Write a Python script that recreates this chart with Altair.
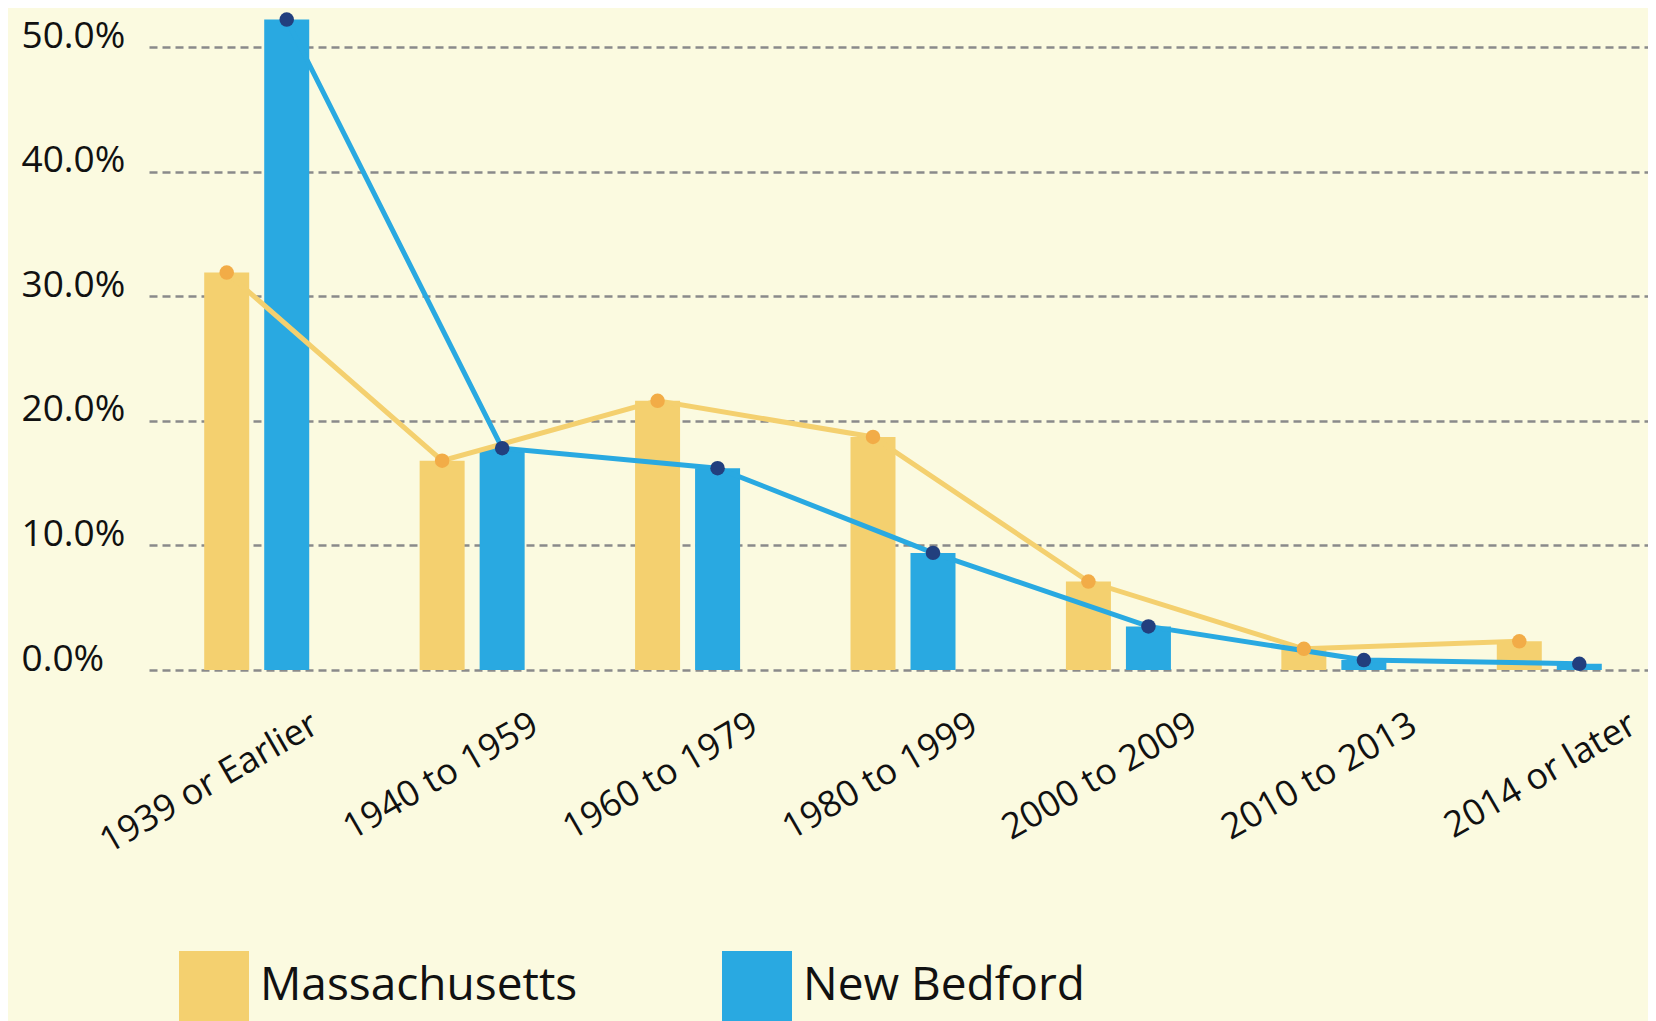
import altair as alt
import pandas as pd

# ---- data ----
categories = ["1939 or Earlier", "1940 to 1959", "1960 to 1979", "1980 to 1999",
              "2000 to 2009", "2010 to 2013", "2014 or later"]
series = ["Massachusetts", "New Bedford"]
massachusetts = [31.9, 16.8, 21.6, 18.7, 7.1, 1.7, 2.3]
new_bedford = [52.2, 17.8, 16.2, 9.4, 3.5, 0.8, 0.5]
y_ticks = [0.0, 0.1, 0.2, 0.3, 0.4, 0.5]

rows = []
for c, m, n in zip(categories, massachusetts, new_bedford):
    rows.append({"period": c, "area": "Massachusetts", "share": m / 100})
    rows.append({"period": c, "area": "New Bedford", "share": n / 100})
df = pd.DataFrame(rows)

FONT = "Open Sans"
BG = "#FBFAE0"
YEL = "#F4D06F"
BLU = "#29A9E1"
ORANGE = "#F2AC47"
NAVY = "#223F7E"

x_enc = alt.X("period:N", sort=categories,
              scale=alt.Scale(domain=categories, range=[0, 1508],
                              paddingInner=0, paddingOuter=0),
              axis=None)
xo_enc = alt.XOffset("area:N", sort=series,
                     scale=alt.Scale(domain=series, paddingInner=0.25, paddingOuter=0.92))
y_axis = alt.Axis(values=y_ticks, format=".1%", title=None, orient="left",
                  labelAlign="left", labelBaseline="alphabetic", labelPadding=128,
                  tickSize=0, ticks=False, domain=False, grid=True,
                  gridDash=[8, 5], gridColor="#8a8a8a", gridWidth=2.5,
                  labelFont=FONT, labelFontSize=37, labelColor="#111111")
y_enc = alt.Y("share:Q", scale=alt.Scale(domain=[0, 0.5], nice=False, zero=True), axis=y_axis)

bars = alt.Chart(df).mark_bar().encode(
    x=x_enc, xOffset=xo_enc, y=y_enc,
    color=alt.Color("area:N", sort=series,
                    scale=alt.Scale(domain=series, range=[YEL, BLU]),
                    legend=alt.Legend(orient="none", legendX=30, legendY=904,
                                      direction="horizontal", symbolType="square",
                                      symbolSize=4900, symbolStrokeWidth=0,
                                      symbolOpacity=1, labelFontSize=46,
                                      labelFont=FONT, labelOffset=11,
                                      columnPadding=144, padding=0, title=None,
                                      labelLimit=1000, labelColor="#111111")),
)

def line_layer(name, col):
    return alt.Chart(df).transform_filter(alt.datum.area == name).mark_line(
        color=col, strokeWidth=5).encode(x=x_enc, xOffset=xo_enc, y=y_enc)

def point_layer(name, col):
    return alt.Chart(df).transform_filter(alt.datum.area == name).mark_circle(
        color=col, size=210, opacity=1).encode(x=x_enc, xOffset=xo_enc, y=y_enc)

inner = alt.layer(
    bars,
    line_layer("Massachusetts", YEL),
    line_layer("New Bedford", BLU),
    point_layer("Massachusetts", ORANGE),
    point_layer("New Bedford", NAVY),
)

axis_layer = alt.Chart(df).mark_point(opacity=0).encode(
    x=alt.X("period:N", sort=categories,
            scale=alt.Scale(domain=categories, range=[61.75, 1599.25],
                            paddingInner=0, paddingOuter=0),
            axis=alt.Axis(title=None, orient="bottom", labelAngle=330,
                          labelAlign="right", labelBaseline="alphabetic",
                          labelPadding=61, tickSize=0, ticks=False, domain=False,
                          grid=False, labelFont=FONT, labelFontSize=36,
                          labelColor="#111111", labelLimit=1000,
                          labelOverlap=False, labelBound=False)),
    y=y_enc,
)

chart = alt.layer(inner, axis_layer).resolve_scale(x="independent").properties(
    width=1499, height=623,
    padding={"left": 141, "top": 39, "right": 0, "bottom": 351},
    autosize=alt.AutoSizeParams(type="none"),
    background=BG,
).configure_view(stroke=None)

chart.save("out.html", embed_options={"renderer": "svg", "actions": False})
